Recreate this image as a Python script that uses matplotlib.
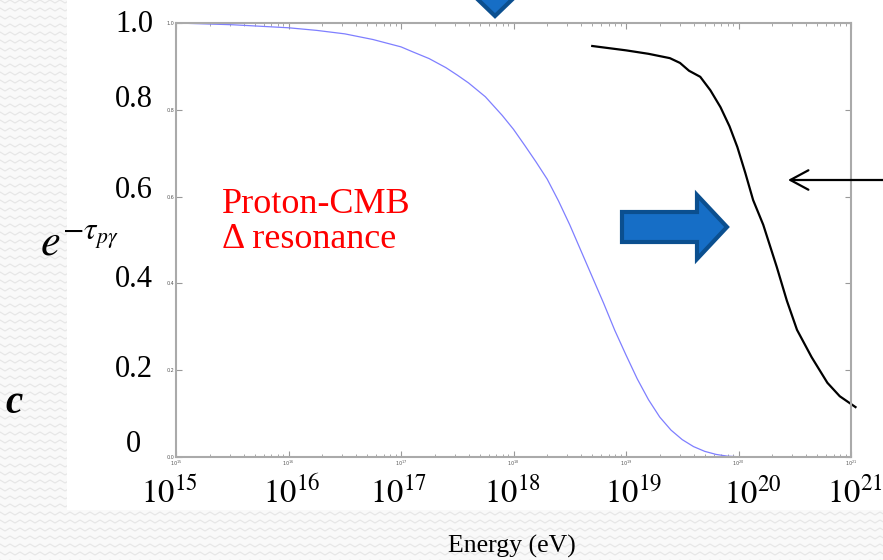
import numpy as np
import matplotlib.pyplot as plt
from matplotlib.patches import Polygon, Rectangle, FancyArrowPatch
from matplotlib.lines import Line2D

W, H = 883, 560

# blue curve: exp(-tau_pgamma) (log10 E, value)
blue_logE = [15.0, 15.5, 16.0, 16.25, 16.5, 16.75, 17.0, 17.1, 17.25, 17.4, 17.5, 17.6,
             17.75, 17.9, 18.0, 18.1, 18.2, 18.3, 18.4, 18.5, 18.6, 18.7, 18.8, 18.9,
             19.0, 19.1, 19.2, 19.3, 19.4, 19.5, 19.6, 19.7, 19.8, 19.9, 20.0, 20.5, 21.0]
blue_val = [1.0, 0.996, 0.989, 0.983, 0.975, 0.962, 0.945, 0.934, 0.918, 0.897, 0.880,
            0.862, 0.830, 0.787, 0.755, 0.718, 0.680, 0.640, 0.590, 0.535, 0.475, 0.415,
            0.355, 0.292, 0.235, 0.180, 0.132, 0.092, 0.062, 0.040, 0.024, 0.013, 0.006,
            0.002, 0.0005, 0.0, 0.0]

# black curve drawn over the slide
black_logE = [18.70, 19.0, 19.2, 19.39, 19.48, 19.56, 19.66, 19.75, 19.84, 19.92,
              19.99, 20.06, 20.13, 20.22, 20.34, 20.43, 20.52, 20.65, 20.79, 20.90, 21.04]
black_val = [0.947, 0.937, 0.929, 0.919, 0.908, 0.890, 0.876, 0.845, 0.806, 0.762,
             0.714, 0.655, 0.592, 0.535, 0.438, 0.36, 0.293, 0.23, 0.171, 0.14, 0.115]

yticks = [0.0, 0.2, 0.4, 0.6, 0.8, 1.0]
xticks = [1e15, 1e16, 1e17, 1e18, 1e19, 1e20, 1e21]
big_ylabels = ["1.0", "0.8", "0.6", "0.4", "0.2", "0"]
big_xlabels = [r"$10^{15}$", r"$10^{16}$", r"$10^{17}$", r"$10^{18}$",
               r"$10^{19}$", r"$10^{20}$", r"$10^{21}$"]


def px(x, y):
    return (x / W, 1 - y / H)


fig = plt.figure(figsize=(W / 100, H / 100), dpi=100)
fig.patch.set_facecolor('#f9f9f9')

# faint zigzag texture of the slide background
zx = np.arange(-5, W + 10, 5)
for row in range(0, H + 8, 8):
    zy = row + np.where((zx // 5) % 2 == 0, 0, 3)
    fig.add_artist(Line2D(zx / W, 1 - zy / H, transform=fig.transFigure,
                          color='#e6e6e6', lw=0.8, zorder=-1))

fig.add_artist(Rectangle(px(67, 510), (W - 67) / W, 510 / H, transform=fig.transFigure,
                         facecolor='white', edgecolor='none', zorder=0))

ax = fig.add_axes([176 / W, 1 - 457 / H, 675 / W, 434 / H])
ax.plot(10 ** np.array(blue_logE), blue_val, color='#7f7fff', lw=0.9)
ax.plot(10 ** np.array(black_logE), black_val, color='black', lw=1.6, clip_on=False)
ax.set_xscale('log')
ax.set_xlim(1e15, 1e21)
ax.set_ylim(0, 1)
ax.set_xticks(xticks)
ax.set_yticks(yticks)
ax.tick_params(which='both', direction='in', top=True, right=True, labelsize=3.5,
               labelcolor='#555555', color='#999999', pad=1.5)
ax.tick_params(which='major', length=4)
ax.tick_params(which='minor', length=2)
for s in ax.spines.values():
    s.set_color('#aaaaaa')
    s.set_linewidth(1.5)

serif = 'Liberation Serif'

# big slide labels
ylab_pos = [(134, 32), (134, 107), (134, 198), (134, 287), (134, 377), (133, 452)]
for lab, (x, y) in zip(big_ylabels, ylab_pos):
    fig.text(*px(x, y), lab, ha='center', va='baseline', fontsize=22, family=serif)

xlab_x = [169, 292, 398, 512, 634, 753, 855]
for lab, x in zip(big_xlabels, xlab_x):
    fig.text(*px(x, 503), lab, ha='center', va='baseline', fontsize=23.5, family=serif,
             math_fontfamily='stix')

fig.text(*px(512, 553), "Energy (eV)", ha='center', va='baseline', fontsize=18.5, family=serif)
fig.text(*px(40, 255), r"$e^{-\tau_{p\gamma}}$", ha='left', va='baseline', fontsize=32,
         math_fontfamily='stix')
fig.text(*px(5, 413), "c", ha='left', va='baseline', fontsize=28, family=serif,
         style='italic', weight='bold')

fig.text(*px(222, 213), "Proton-CMB", ha='left', va='baseline', fontsize=26,
         family=serif, color='red')
fig.text(*px(222, 248), "\u0394 resonance", ha='left', va='baseline', fontsize=26,
         family=serif, color='red')

# block arrows
right_arrow = [(622, 212), (697, 212), (697, 195), (727, 227), (697, 259), (697, 242), (622, 242)]
fig.add_artist(Polygon([px(x, y) for x, y in right_arrow], closed=True, transform=fig.transFigure,
                       facecolor='#166ec6', edgecolor='#0b4f8f', lw=3, joinstyle='miter'))
down_arrow = [(482, -40), (508, -40), (508, -10), (522, -10), (495, 16), (468, -10), (482, -10)]
fig.add_artist(Polygon([px(x, y) for x, y in down_arrow], closed=True, transform=fig.transFigure,
                       facecolor='#166ec6', edgecolor='#0b4f8f', lw=3, joinstyle='miter'))

# thin pointer arrow
fig.add_artist(FancyArrowPatch(px(890, 180), px(788, 180), transform=fig.transFigure,
                               arrowstyle='->,head_length=13,head_width=7', lw=1.6,
                               color='black', mutation_scale=1, shrinkA=0, shrinkB=0))

fig.savefig('out.png', dpi=100, facecolor=fig.get_facecolor())
